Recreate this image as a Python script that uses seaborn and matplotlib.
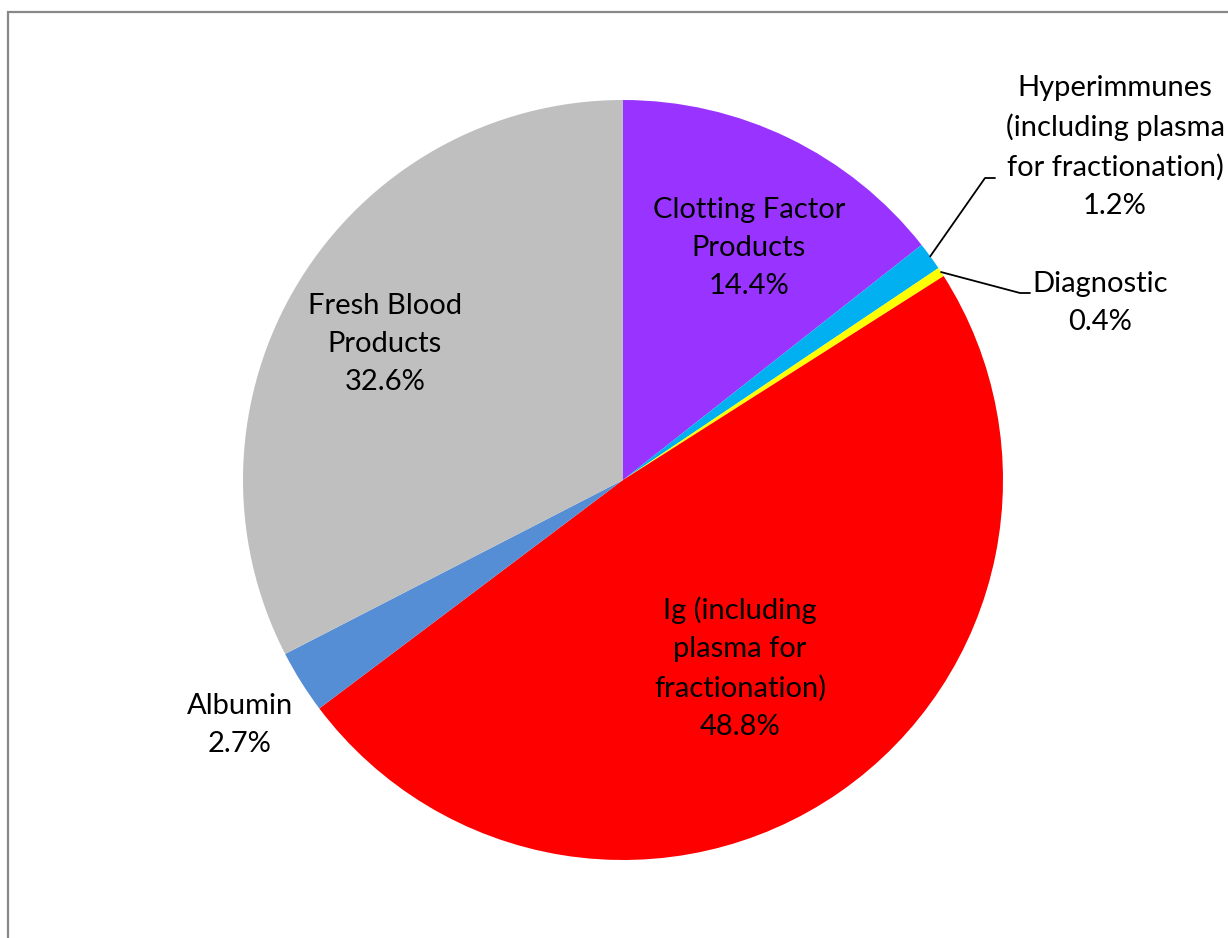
import matplotlib
matplotlib.use("Agg")
import matplotlib.pyplot as plt
import seaborn as sns
import numpy as np
from matplotlib.patches import Rectangle

# data
categories = ['Clotting Factor\nProducts', 'Hyperimmunes\n(including plasma\nfor fractionation)',
              'Diagnostic', 'Ig (including\nplasma for\nfractionation)', 'Albumin',
              'Fresh Blood\nProducts']
shares = [14.4, 1.2, 0.4, 48.8, 2.7, 32.6]
colors = ['#9933FF', '#00B0F0', '#FFFF00', '#FF0000', '#558ED5', '#BFBFBF']

# label layout (pixel coords, y from top) and leader line elbows
label_pos = [(749, 248), (1115, 147), (1100, 303), (740, 668), (240, 725), (385, 344)]
leaders = {1: (985, 178), 2: (1020, 293)}

W, H = 1228, 938
cx, cy, R = 623, 480, 380

sns.set_theme(style="white")
plt.rcParams['font.family'] = ['Lato', 'DejaVu Sans']

fig = plt.figure(figsize=(W / 100, H / 100), dpi=100)
ax = fig.add_axes([0, 0, 1, 1])

wedges, _ = ax.pie(shares, colors=sns.color_palette(colors), startangle=90, counterclock=False,
                   center=(cx, H - cy), radius=R, wedgeprops=dict(linewidth=0))
ax.set_xlim(0, W)
ax.set_ylim(0, H)
ax.set_aspect('equal')
ax.axis('off')

for i, (lab, val) in enumerate(zip(categories, shares)):
    x, y = label_pos[i]
    ax.text(x, H - y, f"{lab}\n{val:.1f}%", ha='center', va='center', fontsize=21,
            linespacing=1.58, color='black')
    if i in leaders:
        mid = np.deg2rad((wedges[i].theta1 + wedges[i].theta2) / 2)
        px, py = cx + R * np.cos(mid), (H - cy) + R * np.sin(mid)
        ex, ey = leaders[i]
        ax.plot([px, ex, ex + 10], [py, H - ey, H - ey], color='black', lw=1.3)

fig.patches.append(Rectangle((8 / W, -0.1), 1.2, (H - 12) / H + 0.1, transform=fig.transFigure,
                             fill=False, edgecolor='#888888', lw=1.6))

fig.savefig('out.png', dpi=100)
